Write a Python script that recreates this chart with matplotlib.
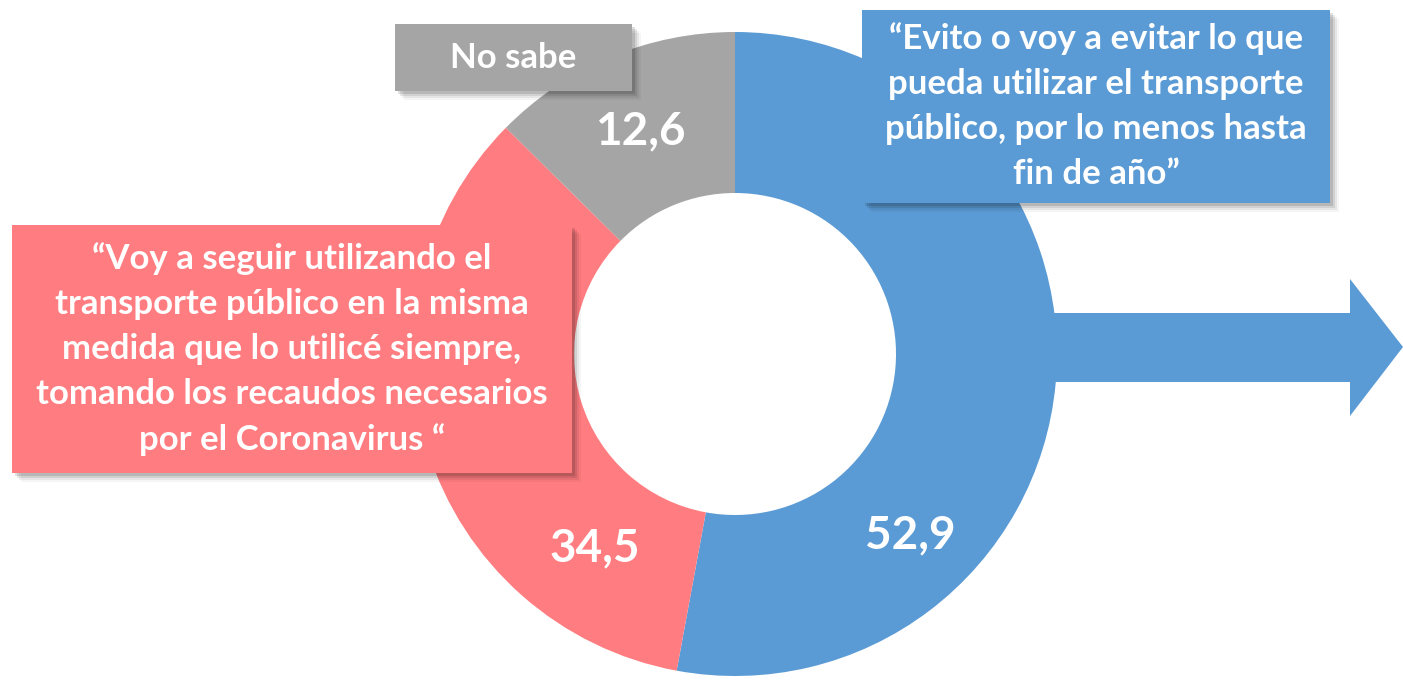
import matplotlib.pyplot as plt
from matplotlib.patches import Rectangle, Polygon

# data
labels = ["Evito", "Sigo", "No sabe"]
values = [52.9, 34.5, 12.6]
colors = ["#5B9BD5", "#FF7C80", "#A5A5A5"]
value_text = ["52,9", "34,5", "12,6"]
box_text = [
    "\u201cEvito o voy a evitar lo que\npueda utilizar el transporte\npúblico, por lo menos hasta\nfin de año\u201d",
    "\u201cVoy a seguir utilizando el\ntransporte público en la misma\nmedida que lo utilicé siempre,\ntomando los recaudos necesarios\npor el Coronavirus \u201c",
    "No sabe",
]

W, H = 1403, 680
plt.rcParams['font.family'] = ['Lato', 'DejaVu Sans']

fig = plt.figure(figsize=(W / 100, H / 100), dpi=100)
ax = fig.add_axes([0, 0, 1, 1])


def py(y):
    # pixel row -> data y
    return H - y


cx, cy, R = 735, py(354), 322

# arrow behind the ring
arrow = Polygon([(1000, py(313)), (1350, py(313)), (1350, py(279)), (1403, py(347)),
                 (1350, py(416)), (1350, py(382)), (1000, py(382))],
                closed=True, color=colors[0], lw=0, zorder=1)
ax.add_patch(arrow)

wedges, _ = ax.pie(values, colors=colors, startangle=90, counterclock=False,
                   center=(cx, cy), radius=R, frame=True,
                   wedgeprops=dict(width=R / 2, linewidth=0))
for w in wedges:
    w.set_zorder(2)
ax.set_xlim(0, W)
ax.set_ylim(0, H)
ax.set_aspect('equal')
ax.axis('off')

# numbers on the ring
num_pos = [(910, 535), (595, 548), (640, 131)]
for t, (x, y) in zip(value_text, num_pos):
    ax.text(x, py(y), t, color='white', fontsize=33, fontweight='bold',
            ha='center', va='center', zorder=3)


def box(x0, y0, x1, y1, color, text, fs):
    # soft drop shadow
    for i, a in enumerate([0.12, 0.09, 0.06, 0.04]):
        d = 3 + i * 2
        ax.add_patch(Rectangle((x0 + d, py(y1) - d), x1 - x0, y1 - y0,
                               color='black', alpha=a, lw=0, zorder=4))
    ax.add_patch(Rectangle((x0, py(y1)), x1 - x0, y1 - y0, color=color, lw=0, zorder=5))
    ax.text((x0 + x1) / 2, py((y0 + y1) / 2), text, color='white', fontsize=fs,
            fontweight='bold', ha='center', va='center', linespacing=1.5, zorder=6)


box(862, 10, 1330, 203, colors[0], box_text[0], 25)
box(12, 225, 572, 473, colors[1], box_text[1], 25)
box(395, 24, 632, 91, colors[2], box_text[2], 25)

fig.savefig('out.png', dpi=100)
